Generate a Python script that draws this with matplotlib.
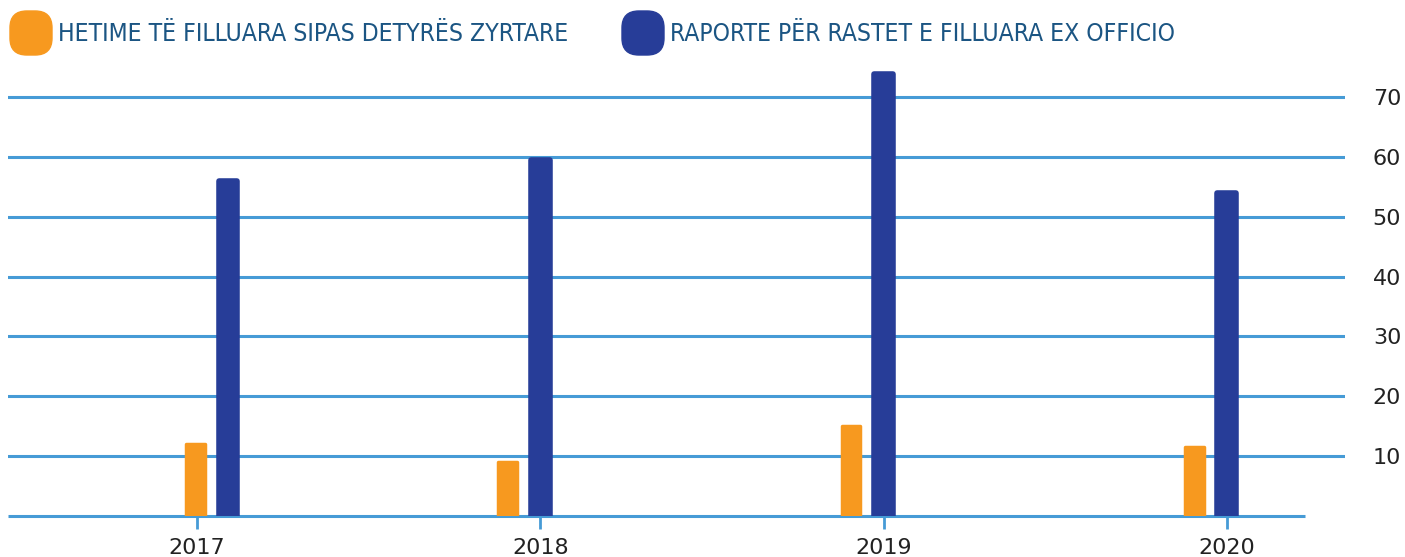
import matplotlib
matplotlib.use("Agg")
import matplotlib.pyplot as plt
from matplotlib.patches import FancyBboxPatch
import numpy as np

# data
years = ["2017", "2018", "2019", "2020"]
hetime = [12, 9, 15, 11.5]        # orange series
raporte = [56, 59.5, 73.8, 54]    # dark blue series
yticks = [10, 20, 30, 40, 50, 60, 70]
labels = ["HETIME TË FILLUARA SIPAS DETYRËS ZYRTARE",
          "RAPORTE PËR RASTET E FILLUARA EX OFFICIO"]

ORANGE = "#f7991f"
BLUE = "#273d98"
GRID = "#469bd6"
TXT = "#1b5583"

W, H = 1405, 557
fig = plt.figure(figsize=(W / 100, H / 100), dpi=100)

# axes placed in pixel terms: x from 8 to 1345, y baseline at 516
ax = fig.add_axes([8 / W, (H - 516) / H, (1345 - 8) / W, (516 - 61) / H])
x = np.arange(len(years))
ax.set_xlim(-0.551, 3.344)
ax.set_ylim(0, 76)

# the first group sits a little right of its tick in the original
shift = np.array([0.09, 0, 0, 0])
bw = 0.055
ax.bar(x + shift - 0.095, hetime, width=bw, color=ORANGE, edgecolor=ORANGE,
       linewidth=2.5, joinstyle="round", zorder=3)
ax.bar(x + shift, raporte, width=bw, color=BLUE, edgecolor=BLUE,
       linewidth=4, joinstyle="round", zorder=3)

# grid lines
for v in yticks:
    ax.axhline(v, color=GRID, lw=2.2, zorder=1)
ax.hlines(0, -0.551, 3.227, color=GRID, lw=2.2, zorder=1, clip_on=False)

for s in ax.spines.values():
    s.set_visible(False)

ax.set_xticks(x)
ax.set_xticklabels(years)
ax.tick_params(axis="x", length=9, width=2, color=GRID, pad=7,
               labelsize=16, labelcolor="#222222")
ax.yaxis.tick_right()
ax.set_yticks(yticks)
ax.tick_params(axis="y", length=0, pad=20, labelsize=16, labelcolor="#222222")

# legend drawn by hand at the top
def legend_item(x0, color, text):
    box = FancyBboxPatch((x0 / W, (H - 55) / H), 42 / W, 44 / H,
                         boxstyle="round,pad=0,rounding_size=0.012",
                         mutation_aspect=W / H,
                         transform=fig.transFigure, color=color)
    fig.patches.append(box)
    fig.text((x0 + 48) / W, (H - 34) / H, text, color=TXT, fontsize=17.7,
             family=["DejaVu Sans"], fontstretch="condensed",
             va="center", ha="left")

legend_item(10, ORANGE, labels[0])
legend_item(622, BLUE, labels[1])

fig.savefig("out.png", dpi=100)
